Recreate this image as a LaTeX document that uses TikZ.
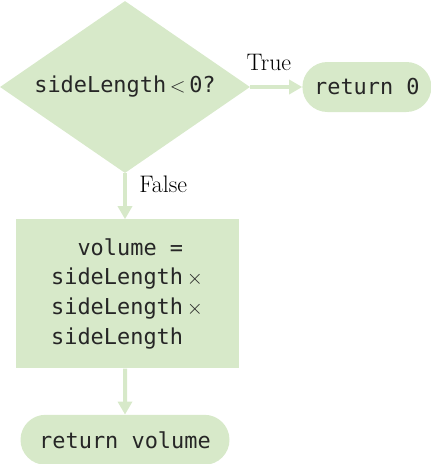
\documentclass[tikz,border=0pt]{standalone}
\usepackage{fontspec}
\newfontfamily\codefont{DejaVu Sans Mono}
\usetikzlibrary{shapes.geometric,shapes.misc,positioning,arrows.meta}
\definecolor{flowgreen}{RGB}{215,233,201}
\def\vgap{46bp}
\def\hgap{52bp}
\tikzset{
  blk/.style={
    fill=flowgreen,draw=none,inner sep=0pt,text=black!85,
    font=\codefont\fontsize{22}{30}\selectfont
},
  cond/.style={blk,diamond,aspect=1.45,minimum width=250bp,minimum height=172bp},
  term/.style={blk,rounded rectangle,minimum height=50bp},
  stmt/.style={blk,rectangle,minimum width=223bp,minimum height=149bp,align=left},
  flow/.style={draw=flowgreen,line width=4bp,-{Triangle[length=13bp,width=14bp]}},
  lbl/.style={font=\fontsize{24}{28}\selectfont,text=black}
}

\begin{document}
\begin{tikzpicture}
\useasboundingbox (0,0) rectangle (431bp,-464bp);
\node[cond] (test) at (125bp,-87bp) {sideLength\,$<$\,0?};
\node[term,minimum width=129bp,right=\hgap of test] (ret0) {return 0};
\node[stmt,below=\vgap of test,xshift=2bp] (vol) {\phantom{xx}volume =\\sideLength\,$\times$\\sideLength\,$\times$\\sideLength};
\node[term,minimum width=209bp,below=\vgap of vol,xshift=-2bp] (retv) {return volume};
% connectors
\draw[flow] (test) -- node[lbl,pos=0.36,above=11bp] (yes) {True} (ret0);
\draw[flow] (test) -- node[lbl,pos=0.25,right=9bp] (no) {False} (test.south |- vol.north);
\draw[flow] (retv.north |- vol.south) -- (retv);
\end{tikzpicture}
\end{document}
